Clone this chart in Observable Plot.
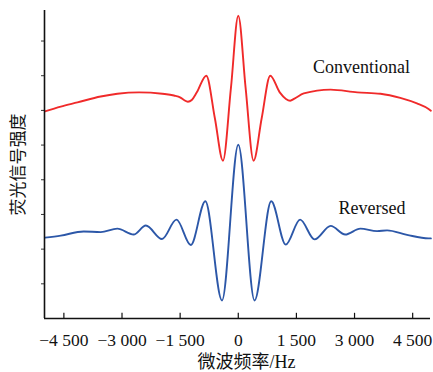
<!DOCTYPE html>
<html>
<head>
<meta charset="utf-8">
<script src="https://cdn.jsdelivr.net/npm/d3@7"></script>
<script src="https://cdn.jsdelivr.net/npm/@observablehq/plot@0.6"></script>
<style>
  html, body { margin: 0; padding: 0; background: #fff; }
  #chart { width: 433px; height: 372px; }
</style>
</head>
<body>
<div id="chart"></div>
<script>
// Microwave frequency (Hz) and fluorescence signal (a.u.)
const redFreq = [-4990, -4580, -4150, -3550, -3120, -2560, -1960, -1660, -1490, -1400, -1300, -1200, -1070, -825, -605, -395, -190, 0, 190, 395, 605, 825, 1070, 1230, 1340, 1450, 1690, 2380, 3070, 3670, 4180, 4610, 4910, 4970];
const redVal  = [5.97, 6.11, 6.23, 6.40, 6.48, 6.52, 6.48, 6.43, 6.37, 6.30, 6.25, 6.30, 6.52, 7.00, 5.78, 4.55, 6.64, 8.73, 6.64, 4.55, 5.78, 7.00, 6.52, 6.33, 6.28, 6.34, 6.49, 6.60, 6.52, 6.48, 6.36, 6.20, 6.04, 5.99];

const blueFreq = [-4990, -4580, -3990, -3550, -3120, -2700, -2385, -1968, -1595, -1225, -850, -420, 0, 420, 850, 1225, 1595, 1968, 2385, 2760, 3150, 3580, 3840, 4355, 4910, 4970];
const blueVal  = [2.33, 2.39, 2.51, 2.49, 2.59, 2.42, 2.68, 2.29, 2.85, 2.12, 3.38, 0.52, 5.01, 0.52, 3.38, 2.13, 2.85, 2.28, 2.67, 2.42, 2.59, 2.52, 2.54, 2.41, 2.31, 2.31];

const seriesNames = ["Conventional", "Reversed"];
const labelFreq = [3180, 3450];
const labelVal = [7.23, 3.17];

const xTicks = [-4500, -3000, -1500, 0, 1500, 3000, 4500];
const yTicks = [1, 2, 3, 4, 5, 6, 7, 8];
const xLabel = "微波频率/Hz";
const yLabel = "荧光信号强度";

const red = redFreq.map((f, i) => ({f, v: redVal[i]}));
const blue = blueFreq.map((f, i) => ({f, v: blueVal[i]}));
const labels = seriesNames.map((t, i) => ({t, f: labelFreq[i], v: labelVal[i]}));

const fmt = d => (d < 0 ? "\u2212" : "") + d3.format(",")(Math.abs(d)).replace(/,/g, " ");
const serif = "'Liberation Serif', 'Times New Roman', serif";

const chart = Plot.plot({
  width: 433,
  height: 372,
  marginLeft: 44,
  marginRight: 3,
  marginTop: 10,
  marginBottom: 54,
  style: {background: "#fff", fontFamily: serif},
  x: {domain: [-5000, 4960]},
  y: {domain: [0, 8.88]},
  marks: [
    Plot.lineY(red, {x: "f", y: "v", curve: "monotone-x", stroke: "#f02a2a", strokeWidth: 1.9}),
    Plot.lineY(blue, {x: "f", y: "v", curve: "monotone-x", stroke: "#2c57a8", strokeWidth: 1.9}),
    Plot.text(labels, {x: "f", y: "v", text: "t", fontSize: 18, fontFamily: serif, fill: "#111"}),
    Plot.ruleX(xTicks, {y1: 0, y2: 0.15, stroke: "#111", strokeWidth: 1.2}),
    Plot.axisX({ticks: xTicks, tickSize: 0, tickPadding: 15, tickFormat: fmt, fontSize: 17.5, fontFamily: serif, label: null, color: "#111"}),
    Plot.axisY({ticks: yTicks, tickSize: 3, tickFormat: () => "", label: null, stroke: "#333"}),
    Plot.ruleX([-5000], {stroke: "#111", strokeWidth: 1.6}),
    Plot.ruleY([0], {stroke: "#111", strokeWidth: 1.6}),
    Plot.text([xLabel], {frameAnchor: "bottom", lineAnchor: "middle", textAnchor: "middle", dy: 44, dx: 9, fontSize: 18, fontFamily: "'Liberation Serif', 'Noto Sans CJK SC', serif", fill: "#111"}),
    Plot.text([yLabel], {frameAnchor: "left", textAnchor: "middle", lineAnchor: "middle", rotate: -90, dx: -26, fontSize: 17, fontFamily: "'Noto Sans CJK SC', sans-serif", fill: "#111"})
  ]
});
document.getElementById("chart").appendChild(chart);
</script>
</body>
</html>
